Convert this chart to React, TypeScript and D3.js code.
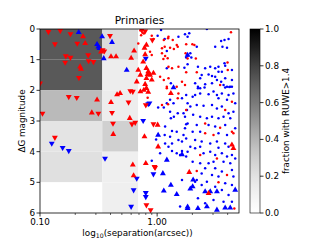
import * as d3 from 'd3';

// separation (arcsec), delta G (mag)
const blueDots: [number, number][] = [
  [1.08, 0.03], [1.01, 0.22], [1.16, 0.33], [1.52, 0.25], [1.73, 0.17], [1.21, 0.72], [1.71, 1.26], [1.21, 1.28], [1.31, 1.77],
  [1.88, 0.14], [1.82, 0.25], [2.66, 0.0], [4.07, 0.33], [3.76, 0.36], [3.52, 0.39], [3.13, 0.58], [2.18, 0.58], [3.61, 0.58],
  [3.95, 0.61], [1.92, 0.79], [1.82, 0.87], [1.77, 0.93], [1.96, 0.93], [1.82, 1.15], [2.23, 1.23], [2.57, 1.28], [2.84, 1.23],
  [3.13, 1.28], [3.34, 1.23], [3.81, 1.2], [3.76, 1.12], [4.35, 1.34], [3.57, 1.39], [2.75, 1.48], [2.94, 1.53], [3.13, 1.56],
  [3.34, 1.39], [2.4, 1.5], [2.33, 1.61], [2.11, 1.77], [2.23, 1.88], [2.33, 1.93], [2.57, 1.8], [2.94, 1.77], [3.24, 1.66],
  [3.69, 1.83], [3.95, 1.88], [4.13, 1.89], [4.35, 1.88], [4.35, 1.66], [3.81, 1.61], [3.52, 1.72],
  [1.29, 2.31], [1.21, 2.42], [1.38, 2.42], [1.63, 2.26], [1.82, 2.42], [1.8, 2.64], [1.02, 2.56], [1.14, 2.56], [1.29, 2.7],
  [1.5, 2.75], [1.39, 2.86], [1.31, 2.91], [1.68, 2.75], [1.73, 2.86], [1.17, 3.18], [1.34, 3.33], [1.47, 3.35], [1.73, 3.24],
  [1.77, 3.11], [1.16, 3.46], [1.29, 3.51], [1.68, 3.46], [1.52, 3.62], [1.63, 3.67], [1.34, 3.73], [1.17, 3.73], [1.25, 3.84],
  [2.23, 1.93], [2.54, 1.91], [3.81, 1.91], [4.21, 1.88], [1.77, 2.15], [2.01, 2.21], [2.11, 2.15], [2.33, 2.1], [2.75, 2.13],
  [3.03, 2.04], [3.24, 2.15], [3.57, 2.1], [4.07, 2.15], [4.48, 2.1], [3.34, 2.26], [3.95, 2.31], [4.64, 2.42], [1.92, 2.53],
  [2.18, 2.48], [2.49, 2.5], [2.94, 2.48], [3.24, 2.59], [3.57, 2.53], [4.07, 2.75], [4.48, 2.7], [2.03, 2.8], [2.33, 2.86],
  [2.66, 2.91], [2.94, 2.86], [3.34, 2.91], [3.69, 2.86], [4.21, 2.91], [1.82, 3.08], [2.18, 3.13], [2.75, 3.13], [3.13, 3.18],
  [3.81, 3.13], [4.64, 3.24], [2.01, 3.35], [2.33, 3.35], [3.34, 3.4], [3.95, 3.46], [1.77, 3.57], [2.11, 3.62], [2.4, 3.67],
  [2.84, 3.73], [3.24, 3.67], [3.81, 3.73], [1.92, 3.84], [2.33, 3.84], [3.34, 3.87], [4.07, 3.84],
  [1.34, 3.98], [1.47, 4.05], [1.63, 3.98], [1.77, 4.16], [1.57, 4.11], [1.63, 4.92], [1.57, 5.79], [0.98, 3.6], [1.06, 4.05],
  [0.9, 4.3], [1.82, 4.0], [2.11, 3.89], [2.49, 4.05], [2.84, 4.0], [3.13, 4.11], [3.57, 4.05], [3.95, 4.16], [4.35, 4.11],
  [4.64, 4.22], [2.01, 4.33], [2.33, 4.38], [2.75, 4.38], [3.03, 4.33], [3.69, 4.33], [4.21, 4.38], [2.57, 4.54], [3.13, 4.54],
  [3.57, 4.65], [4.35, 4.6], [2.4, 4.71], [2.94, 4.76], [3.34, 4.81], [4.48, 4.81], [2.66, 4.98], [3.81, 5.03], [4.35, 5.09],
  [2.4, 5.09], [3.13, 5.14], [3.57, 5.25], [4.07, 5.41], [2.23, 5.52], [3.03, 5.58], [3.69, 5.63], [4.35, 5.63], [2.57, 5.68],
  [2.11, 4.98], [2.18, 4.92],
];

const redDots: [number, number][] = [
  [0.9, 0.22], [0.93, 0.33], [1.14, 0.36], [1.24, 0.3], [1.25, 0.25], [1.36, 0.36], [1.47, 0.52], [1.77, 0.5], [0.69, 0.47],
  [1.1, 0.63], [1.16, 0.58], [1.29, 0.61], [1.39, 0.65], [1.5, 0.58], [1.1, 0.79], [1.17, 0.88], [1.23, 0.95], [1.13, 0.98],
  [0.87, 0.74], [0.9, 0.85], [1.82, 0.96], [1.52, 1.23], [1.34, 1.28], [1.25, 1.23], [1.06, 1.56], [1.14, 1.66], [1.25, 1.61],
  [1.21, 1.88], [1.63, 1.72], [1.73, 1.83], [4.27, 0.11], [2.0, 0.5], [2.08, 0.52], [1.75, 0.79], [2.14, 0.96], [3.99, 1.09],
  [4.01, 1.34], [1.77, 1.41], [2.18, 1.41], [3.45, 1.83], [0.83, 2.24], [1.21, 1.93], [1.47, 1.88], [1.52, 2.1], [1.5, 2.26],
  [1.1, 2.48], [1.24, 2.45], [4.35, 2.37], [1.77, 2.64], [3.81, 2.64], [2.57, 3.08], [3.45, 3.22], [4.35, 3.35], [4.48, 3.4],
  [2.57, 3.4], [3.03, 3.46], [2.18, 4.63], [3.24, 4.22], [2.33, 4.11], [3.34, 5.0], [3.95, 4.76], [4.56, 5.85], [0.75, 0.12],
  [0.72, 0.05], [0.77, 0.15], [0.73, 0.2],
];

const redUp: [number, number][] = [
  [0.233, 0.25], [0.243, 0.47], [0.332, 0.74], [0.404, 0.9], [0.446, 0.9], [0.22, 1.23], [0.224, 1.31], [0.307, 2.31],
  [0.404, 2.39], [0.277, 2.73], [0.455, 2.14], [0.483, 2.1], [0.636, 0.71], [0.422, 3.43], [0.584, 2.91], [0.78, 3.51],
  [0.62, 4.43], [0.63, 4.78], [0.8, 4.38], [0.81, 0.52], [0.79, 0.83], [0.72, 2.04], [0.77, 1.99], [0.84, 2.06], [0.81, 1.93],
  [1.01, 3.13], [1.02, 3.84], [1.31, 2.1], [1.88, 4.67], [2.75, 5.36], [4.48, 3.89], [4.35, 3.78], [0.81, 1.28], [0.84, 1.39],
  [0.87, 1.5], [0.93, 1.44], [0.81, 1.61], [0.9, 1.66], [0.79, 1.8], [0.69, 1.34], [0.72, 1.5], [0.67, 1.72], [0.78, 0.62],
  [0.76, 1.07], [0.83, 1.48], [0.6, 0.95],
];

const redDown: [number, number][] = [
  [0.118, 0.09], [0.149, 0.05], [0.182, 0.16], [0.396, 0.22], [0.134, 0.49], [0.208, 0.47], [0.343, 0.68], [0.354, 0.72],
  [0.258, 0.85], [0.166, 0.88], [0.182, 0.93], [0.164, 1.09], [0.26, 1.04], [0.286, 1.07], [0.215, 1.59], [0.1, 1.77],
  [0.176, 2.21], [0.206, 2.24], [0.105, 2.75], [0.315, 2.75], [0.412, 2.73], [0.57, 2.39], [0.59, 2.02], [0.62, 2.04],
  [0.134, 3.54], [0.42, 3.08], [0.61, 3.1], [0.65, 3.05], [0.93, 3.1], [0.95, 4.49], [0.81, 5.74], [0.88, 5.9], [0.8, 2.48],
  [0.74, 0.03], [0.79, 0.07], [0.91, 0.36], [0.96, 4.52],
];

const blueUp: [number, number][] = [
  [0.214, 0.11], [0.339, 0.25], [0.412, 0.43], [0.307, 0.5], [0.315, 0.58], [0.322, 0.63], [0.35, 0.96], [0.55, 1.34],
  [1.38, 1.91], [1.02, 3.46], [1.21, 4.27], [1.12, 4.71], [1.31, 5.09], [1.14, 5.28], [1.47, 5.39], [1.82, 5.8], [2.03, 4.92],
  [2.01, 5.14], [1.92, 5.21], [2.57, 5.3], [2.84, 5.3], [3.24, 5.3], [4.64, 5.25], [1.82, 5.85], [2.23, 5.85], [2.66, 5.79],
  [3.24, 5.9], [3.81, 5.83], [4.21, 5.83], [1.82, 0.85], [1.63, 4.09],
];

const blueDown: [number, number][] = [
  [0.126, 3.73], [0.156, 3.87], [0.176, 3.97], [0.359, 4.22], [0.76, 2.99], [0.67, 4.87], [0.63, 5.25], [0.6, 5.79],
  [0.93, 4.73], [0.8, 5.34], [0.8, 5.47], [0.86, 2.42], [0.84, 2.44], [0.8, 0.96],
];

// fraction with RUWE>1.4 per (separation bin, delta G bin)
const sepEdges = [0.1, 0.34, 0.69, 5.0];
const dgEdges = [0, 1, 2, 3, 4, 5, 6];
const fractions = [
  [0.72, 0.72, 0.38, 0.19, 0.21, 0.0],
  [0.235, 0.135, 0.135, 0.29, 0.12, 0.12],
  [0, 0, 0, 0, 0, 0],
];

const cbTicks = [0, 0.2, 0.4, 0.6, 0.8, 1.0];
const yTicks = [0, 1, 2, 3, 4, 5, 6];
const xMajor = [0.1, 1.0];
const xMinor = [0.2, 0.3, 0.4, 0.5, 0.6, 0.7, 0.8, 0.9, 2, 3, 4];

const W = 320, H = 240;
const left = 40, right = 239, top = 29, bottom = 213;
const font = 'DejaVu Sans, sans-serif';

export default function App() {
  const x = d3.scaleLog().domain([0.1, 5.0]).range([left, right]);
  const y = d3.scaleLinear().domain([0, 6]).range([top, bottom]);
  const color = d3.scaleSequential(d3.interpolateGreys).domain([0, 1]);
  const cb = d3.scaleLinear().domain([0, 1]).range([bottom, top]);
  const cbX = 250, cbW = 10;

  const tri = d3.symbol(d3.symbolTriangle, 15)() as string;

  const cells: { x0: number; x1: number; y0: number; y1: number; v: number }[] = [];
  fractions.forEach((col, i) => col.forEach((v, j) => {
    cells.push({ x0: x(sepEdges[i]), x1: x(sepEdges[i + 1]), y0: y(dgEdges[j]), y1: y(dgEdges[j + 1]), v });
  }));

  const gradStops = d3.range(0, 1.0001, 0.05);

  const dots = (data: [number, number][], fill: string) =>
    data.map((d, i) => <circle key={fill + i} cx={x(d[0])} cy={y(d[1])} r={1.25} fill={fill} />);
  const tris = (data: [number, number][], fill: string, down: boolean) =>
    data.map((d, i) => (
      <path key={fill + down + i} d={tri} fill={fill}
        transform={`translate(${x(d[0])},${y(d[1])})${down ? ' rotate(180)' : ''}`} />
    ));

  return (
    <svg width={W} height={H} style={{ position: 'absolute', left: 0, top: 0, background: '#fff' }} fontFamily={font}>
      <defs>
        <linearGradient id="cbg" x1="0" y1="1" x2="0" y2="0">
          {gradStops.map(t => <stop key={t} offset={t} stopColor={color(t)} />)}
        </linearGradient>
        <clipPath id="plot"><rect x={left} y={top} width={right - left} height={bottom - top} /></clipPath>
      </defs>

      <g clipPath="url(#plot)">
        {cells.map((c, i) => (
          <rect key={i} x={c.x0} y={c.y0} width={c.x1 - c.x0} height={c.y1 - c.y0} fill={color(c.v)} />
        ))}
        {dots(blueDots, '#0000ff')}
        {dots(redDots, '#ff0000')}
        {tris(blueUp, '#0000ff', false)}
        {tris(blueDown, '#0000ff', true)}
        {tris(redUp, '#ff0000', false)}
        {tris(redDown, '#ff0000', true)}
      </g>

      <rect x={left} y={top} width={right - left} height={bottom - top} fill="none" stroke="#000" strokeWidth={0.8} />

      {yTicks.map(t => (
        <g key={t}>
          <line x1={left - 3.5} x2={left} y1={y(t)} y2={y(t)} stroke="#000" strokeWidth={0.8} />
          <text x={left - 5} y={y(t)} dy="0.35em" textAnchor="end" fontSize={8.8}>{t}</text>
        </g>
      ))}
      {xMajor.map(t => (
        <g key={t}>
          <line x1={x(t)} x2={x(t)} y1={bottom} y2={bottom + 3.5} stroke="#000" strokeWidth={0.8} />
          <text x={x(t)} y={bottom + 12} textAnchor="middle" fontSize={8.8}>{d3.format('.2f')(t)}</text>
        </g>
      ))}
      {xMinor.map(t => (
        <line key={t} x1={x(t)} x2={x(t)} y1={bottom} y2={bottom + 2} stroke="#000" strokeWidth={0.6} />
      ))}

      <text x={(left + right) / 2} y={24} textAnchor="middle" fontSize={10.6}>Primaries</text>
      <text x={(left + right) / 2 - 2} y={236} textAnchor="middle" fontSize={8.8}>
        log<tspan fontSize={6.2} dy={2}>10</tspan><tspan dy={-2}>(separation(arcsec))</tspan>
      </text>
      <text transform={`translate(25,${(top + bottom) / 2}) rotate(-90)`} textAnchor="middle" fontSize={8.8}>ΔG magnitude</text>

      <rect x={cbX} y={top} width={cbW} height={bottom - top} fill="url(#cbg)" stroke="#000" strokeWidth={0.6} />
      {cbTicks.map(t => (
        <g key={t}>
          <line x1={cbX + cbW} x2={cbX + cbW + 3.5} y1={cb(t)} y2={cb(t)} stroke="#000" strokeWidth={0.8} />
          <text x={cbX + cbW + 5} y={cb(t)} dy="0.35em" fontSize={8.8}>{d3.format('.1f')(t)}</text>
        </g>
      ))}
      <text transform={`translate(289,${(top + bottom) / 2}) rotate(-90)`} textAnchor="middle" fontSize={8.8}>fraction with RUWE&gt;1.4</text>
    </svg>
  );
}
